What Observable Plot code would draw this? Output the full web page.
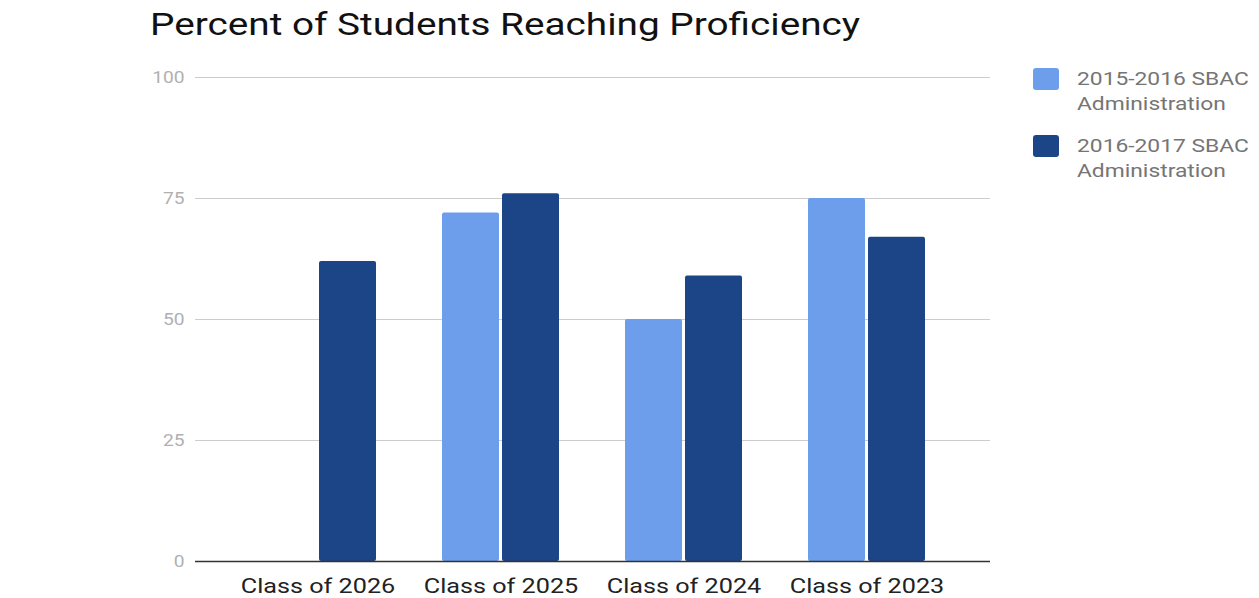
<!DOCTYPE html>
<html>
<head>
<meta charset="utf-8">
<script src="https://cdn.jsdelivr.net/npm/d3@7"></script>
<script src="https://cdn.jsdelivr.net/npm/@observablehq/plot@0.6"></script>
<style>
  body { margin: 0; background: #fff; font-family: Roboto, sans-serif; }
  #wrap { position: relative; width: 1259px; height: 598px; overflow: hidden; }
  #title { position: absolute; left: 150px; top: 5px; font-size: 32px; color: #111; white-space: nowrap; transform: scaleX(1.21); transform-origin: left center; }
  #chart { position: absolute; left: 0; top: 55px; }
  #legend { position: absolute; left: 1033px; top: 66px; font-size: 19px; color: #757575; line-height: 25px; }
  .item { display: flex; align-items: flex-start; margin-bottom: 17px; }
  .sw { width: 26px; height: 22px; border-radius: 3px; margin-right: 18px; margin-top: 2px; flex: none; }
  .txt { transform: scaleX(1.2); transform-origin: left center; white-space: nowrap; }
</style>
</head>
<body>
<div id="wrap">
  <div id="title">Percent of Students Reaching Proficiency</div>
  <div id="chart"></div>
  <div id="legend"></div>
</div>
<script>
const classes = ["Class of 2026", "Class of 2025", "Class of 2024", "Class of 2023"];
const series = ["2015-2016 SBAC Administration", "2016-2017 SBAC Administration"];
const seriesLabels = [["2015-2016 SBAC", "Administration"], ["2016-2017 SBAC", "Administration"]];
const values2016 = [null, 72, 50, 75];
const values2017 = [62, 76, 59, 67];
const yTicks = [0, 25, 50, 75, 100];
const colors = ["#6d9eeb", "#1c4587"];

const data1 = classes.map((c, i) => ({cls: c, value: values2016[i]})).filter(d => d.value != null);
const data2 = classes.map((c, i) => ({cls: c, value: values2017[i]})).filter(d => d.value != null);

const chart = Plot.plot({
  width: 1259,
  height: 543,
  marginLeft: 195,
  marginRight: 269,
  marginTop: 22,
  marginBottom: 37,
  style: {fontFamily: "Roboto, sans-serif", background: "transparent"},
  x: {domain: classes, padding: 0, insetLeft: 30, insetRight: 31, label: null},
  y: {domain: [0, 100], ticks: yTicks, label: null},
  marks: [
    Plot.ruleY(yTicks.filter(t => t > 0), {stroke: "#cccccc", strokeWidth: 1}),
    Plot.barY(data1, {x: "cls", y: "value", fill: colors[0], insetLeft: 33, insetRight: 93, rx: 2}),
    Plot.barY(data2, {x: "cls", y: "value", fill: colors[1], insetLeft: 93, insetRight: 33, rx: 2}),
    Plot.ruleY([0], {stroke: "#333333", strokeWidth: 1.5}),
    Plot.axisY({ticks: yTicks, tickSize: 0, tickPadding: 11, fontSize: 16, color: "#b0b0b0", label: null}),
    Plot.axisX({tickSize: 0, tickPadding: 17, fontSize: 21, color: "#222222", label: null})
  ]
});
// widen axis label glyphs horizontally (reference text is horizontally stretched)
chart.querySelectorAll("text").forEach(t => {
  const x = +(t.getAttribute("x") || 0);
  const tr = t.getAttribute("transform") || "";
  t.setAttribute("transform", `${tr} translate(${x},0) scale(1.2,1) translate(${-x},0)`);
});
document.getElementById("chart").appendChild(chart);

const legend = document.getElementById("legend");
series.forEach((s, i) => {
  const item = document.createElement("div");
  item.className = "item";
  const sw = document.createElement("div");
  sw.className = "sw";
  sw.style.background = colors[i];
  const txt = document.createElement("div");
  txt.className = "txt";
  txt.innerHTML = seriesLabels[i].join("<br>");
  item.appendChild(sw);
  item.appendChild(txt);
  legend.appendChild(item);
});
</script>
</body>
</html>
